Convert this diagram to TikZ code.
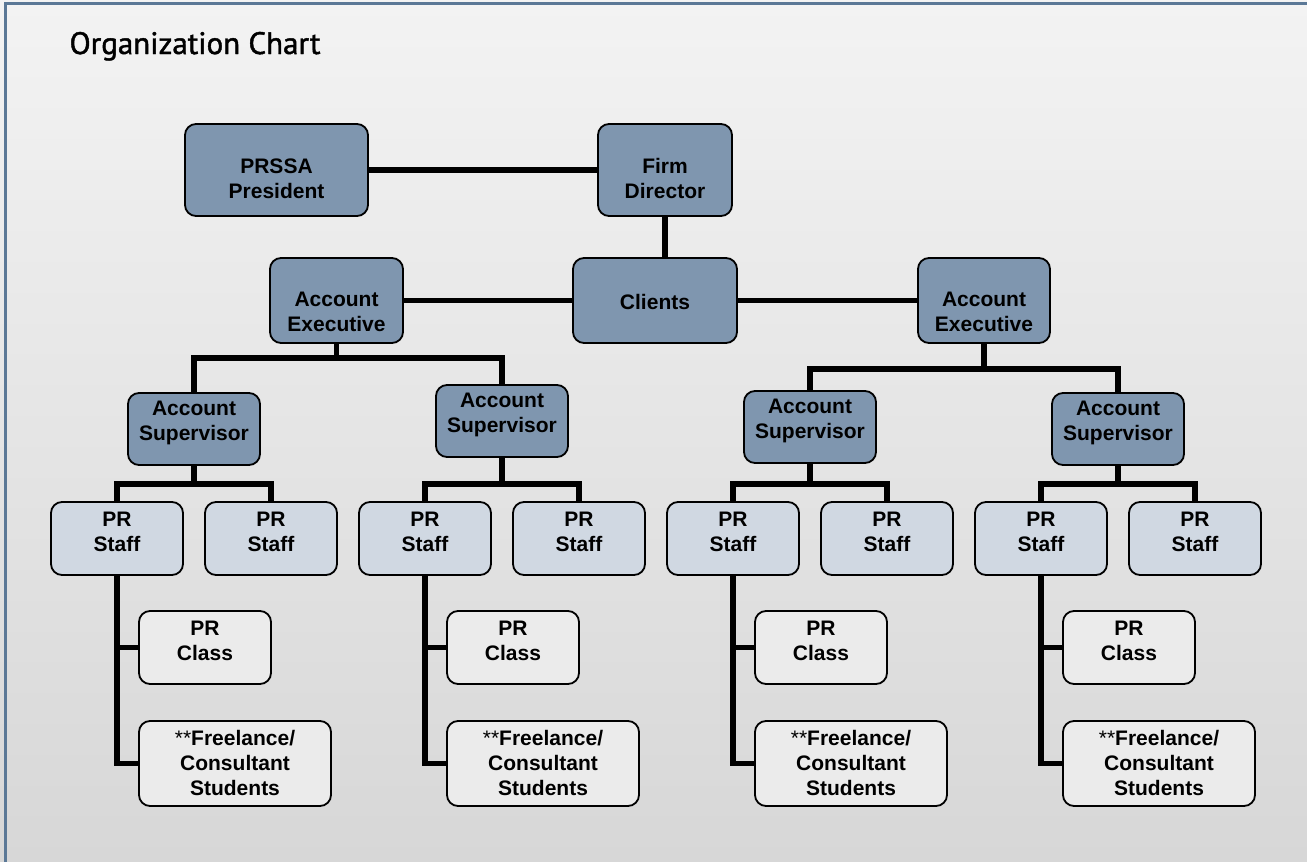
\documentclass[tikz,border=0pt]{standalone}
\usepackage{fontspec}
\setmainfont{Liberation Sans}
\newfontfamily\titlefont[FakeBold=1.4]{PT Sans}
\usetikzlibrary{positioning}

\definecolor{execblue}{RGB}{127,150,175}
\definecolor{staffblue}{RGB}{208,216,226}
\definecolor{classgray}{RGB}{235,235,235}
\definecolor{frameblue}{RGB}{91,120,150}
% box text, lifted a bit where the chart has it off centre
\newcommand{\orgtext}[2][0pt]{\raisebox{#1}[\height][\depth]{\begin{tabular}{@{}c@{}}#2\end{tabular}}}

\begin{document}
\begin{tikzpicture}[x=1pt,y=-1pt,line join=miter,
	orgbox/.style={draw=black,line width=1.8pt,rounded corners=11pt,inner sep=0pt,
		font=\fontsize{21}{25}\selectfont\bfseries},
	execbox/.style={orgbox,fill=execblue},
	staffbox/.style={orgbox,fill=staffblue,minimum width=132pt,minimum height=73pt},
	classbox/.style={orgbox,fill=classgray,minimum height=73pt,minimum width=132pt},
	freebox/.style={orgbox,fill=classgray,minimum height=85pt,minimum width=192pt},
	link/.style={draw=black,line width=5.8pt}]
	\useasboundingbox (0,0) rectangle (1307,862);
	\shade[top color={rgb,255:red,243;green,243;blue,243},bottom color={rgb,255:red,215;green,215;blue,215}] (0,0) rectangle (1307,862);
	\draw[frameblue,line width=3pt] (5.5,862) -- (5.5,3.5) -- (1307,3.5);
	\node[anchor=base west,font=\titlefont\fontsize{31}{34}\selectfont] (title) at (66,54) {Organization Chart};
	
	% top of the chart
	\node[execbox,minimum width=183pt,minimum height=92pt] (pres) at (276.5,170) {\orgtext[-11pt]{PRSSA\\President}};
	\node[execbox,minimum width=134pt,minimum height=92pt] (dir) at (665,170) {\orgtext[-11pt]{Firm\\Director}};
	\node[execbox,minimum width=164pt,minimum height=85pt] (cli) at (655,300.5) {\orgtext[-4pt]{Clients}};
	\node[execbox,minimum width=133pt,minimum height=85pt] (ael) at (336.5,300.5) {\orgtext[-13pt]{Account\\Executive}};
	\node[execbox,minimum width=132pt,minimum height=85pt] (aer) at (984,300.5) {\orgtext[-13pt]{Account\\Executive}};
	\draw[link] (pres) -- (dir);
	\draw[link] (dir.south) -- (dir.south |- cli.north);
	\draw[link] (ael) -- (cli);
	\draw[link] (cli) -- (aer);
	
	% four account groups
	\foreach \i/\sy in {1/429,2/421,3/427,4/429} {
		\pgfmathsetmacro\gx{117+308*(\i-1)}
		\node[execbox,minimum width=132pt,minimum height=72pt] (sup\i) at (\gx+77,\sy) {\orgtext[6pt]{Account\\Supervisor}};
		\node[staffbox] (staffa\i) at (\gx,538.5) {\orgtext[5pt]{PR\\Staff}};
		\node[staffbox] (staffb\i) at (\gx+154,538.5) {\orgtext[5pt]{PR\\Staff}};
		\node[classbox] (class\i) at (\gx+88,647.5) {\orgtext[5pt]{PR\\Class}};
		\node[freebox] (free\i) at (\gx+118,763.5) {\orgtext[-2pt]{{\mdseries**}Freelance/\\Consultant\\Students}};
		\coordinate (sj\i) at (sup\i.south |- 0,484);
		\draw[link] (sup\i.south) -- (sj\i);
		\draw[link] (staffa\i.north) |- (sj\i) -| (staffb\i.north);
		\draw[link] (staffa\i.south) |- (free\i.west);
		\draw[link] (class\i.west) -- (class\i.west -| staffa\i.south);
	}
	
	% executives down to supervisors
	\draw[link] (ael.south) -- ++(0,14) coordinate (aelj);
	\draw[link] (sup1.north) |- (aelj) -| (sup2.north);
	\draw[link] (aer.south) -- ++(0,25) coordinate (aerj);
	\draw[link] (sup3.north) |- (aerj) -| (sup4.north);
\end{tikzpicture}
\end{document}
